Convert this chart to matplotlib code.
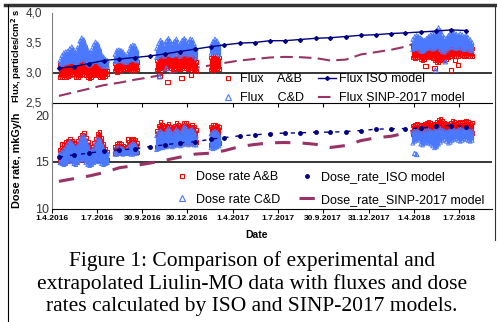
import matplotlib
matplotlib.use('Agg')
import matplotlib.pyplot as plt
import pandas as pd
from matplotlib.lines import Line2D

plt.rcParams['font.family'] = ['Liberation Sans', 'DejaVu Sans']

# ---- model curves (monthly) ----
model_start = '2016-04-01'
flux_iso = [3.07, 3.10, 3.15, 3.20, 3.225, 3.25, 3.275, 3.31, 3.35, 3.39, 3.43, 3.46, 3.49, 3.50,
            3.53, 3.53, 3.55, 3.57, 3.58, 3.60, 3.62, 3.63, 3.65, 3.66, 3.675, 3.69, 3.71, 3.70]
flux_sinp = [2.61, 2.67, 2.73, 2.79, 2.83, 2.88, 2.92, 2.97, 3.03, 3.075, 3.12, 3.16, 3.20, 3.225,
             3.25, 3.26, 3.255, 3.24, 3.20, 3.215, 3.30, 3.34, 3.38, 3.43, 3.525, 3.625]
dose_iso = [15.50, 15.75, 15.93, 16.18, 16.29, 16.39, 16.64, 16.82, 17.04, 17.14, 17.43, 17.60, 17.79, 17.89,
            18.03, 18.08, 18.11, 18.18, 18.18, 18.25, 18.35, 18.50, 18.54, 18.57, 18.61, 18.86, 18.89, 18.78]
dose_sinp = [12.91, 13.20, 13.49, 13.85, 14.37, 14.60, 14.86, 15.17, 15.50, 15.83, 15.93, 16.20, 16.64,
             16.86, 17.04, 17.07, 17.03, 16.88, 16.54, 16.75, 17.27, 17.58, 17.75, 18.08, 18.55]

# ---- Liulin-MO measurement periods (4-day samples: top / bottom of the point cloud) ----
seg_start = ['2016-04-17', '2016-08-06', '2016-10-29', '2017-02-16', '2018-03-30']

flux_cd_top = [
    [3.20, 3.28, 3.33, 3.35, 3.36, 3.40, 3.43, 3.38, 3.34, 3.42, 3.52, 3.58, 3.55, 3.46, 3.38, 3.33, 3.38,
     3.46, 3.51, 3.48, 3.40, 3.30, 3.26, 3.22, 3.20],
    [3.30, 3.37, 3.38, 3.37, 3.35, 3.30, 3.28, 3.36, 3.44, 3.46, 3.45, 3.38],
    [3.40, 3.48, 3.54, 3.50, 3.46, 3.53, 3.57, 3.52, 3.47, 3.52, 3.56, 3.50, 3.47, 3.54, 3.57, 3.53, 3.50,
     3.56, 3.55, 3.48, 3.40],
    [3.45, 3.52, 3.56, 3.53, 3.47],
    [3.55, 3.60, 3.62, 3.60, 3.58, 3.55, 3.54, 3.57, 3.60, 3.63, 3.65, 3.66, 3.70, 3.75, 3.70, 3.63, 3.58,
     3.57, 3.62, 3.66, 3.68, 3.66, 3.64, 3.62, 3.65, 3.63, 3.60, 3.62, 3.58, 3.55, 3.50],
]
flux_cd_low = [
    [3.10, 3.12, 3.15, 3.16, 3.17, 3.18, 3.20, 3.18, 3.15, 3.16, 3.20, 3.22, 3.22, 3.18, 3.14, 3.12, 3.15,
     3.18, 3.20, 3.18, 3.15, 3.12, 3.10, 3.10, 3.10],
    [3.18, 3.19, 3.20, 3.20, 3.19, 3.17, 3.17, 3.20, 3.22, 3.22, 3.21, 3.19],
    [3.25, 3.27, 3.30, 3.29, 3.27, 3.30, 3.32, 3.30, 3.28, 3.30, 3.32, 3.29, 3.27, 3.30, 3.33, 3.31, 3.29,
     3.31, 3.30, 3.27, 3.24],
    [3.32, 3.33, 3.35, 3.33, 3.30],
    [3.38, 3.40, 3.41, 3.39, 3.36, 3.35, 3.37, 3.40, 3.42, 3.41, 3.39, 3.40, 3.43, 3.42, 3.38, 3.35, 3.34,
     3.37, 3.40, 3.42, 3.43, 3.41, 3.40, 3.41, 3.42, 3.40, 3.38, 3.40, 3.39, 3.37, 3.36],
]
flux_ab_top = [
    [3.12, 3.15, 3.12, 3.10, 3.15, 3.17, 3.18, 3.14, 3.12, 3.20, 3.24, 3.26, 3.22, 3.16, 3.12, 3.14, 3.18,
     3.22, 3.24, 3.20, 3.15, 3.10, 3.08, 3.05, 3.02],
    [3.15, 3.20, 3.22, 3.20, 3.18, 3.12, 3.14, 3.22, 3.25, 3.24, 3.22, 3.18],
    [3.20, 3.24, 3.27, 3.25, 3.22, 3.25, 3.28, 3.26, 3.22, 3.25, 3.28, 3.24, 3.22, 3.26, 3.29, 3.27, 3.24,
     3.27, 3.26, 3.22, 3.18],
    [3.25, 3.28, 3.30, 3.27, 3.25],
    [3.42, 3.44, 3.45, 3.43, 3.40, 3.38, 3.40, 3.43, 3.45, 3.44, 3.42, 3.43, 3.46, 3.45, 3.42, 3.38, 3.37,
     3.40, 3.43, 3.45, 3.46, 3.44, 3.43, 3.44, 3.45, 3.44, 3.42, 3.44, 3.43, 3.41, 3.40],
]
flux_ab_low = [
    [2.92, 2.93, 2.95, 2.92, 2.94, 2.96, 2.98, 2.97, 2.93, 2.92, 2.95, 2.98, 3.00, 2.96, 2.92, 2.90, 2.92,
     2.95, 2.97, 2.96, 2.93, 2.92, 2.92, 2.94, 2.97],
    [3.02, 3.01, 3.03, 3.02, 3.05, 3.06, 3.08, 3.05, 3.03, 3.02, 3.03, 3.05],
    [3.05, 3.06, 3.08, 3.07, 3.05, 3.08, 3.10, 3.08, 3.06, 3.08, 3.10, 3.07, 3.05, 3.08, 3.10, 3.08, 3.06,
     3.08, 3.07, 3.05, 3.03],
    [3.05, 3.02, 3.05, 3.08, 3.06],
    [3.25, 3.24, 3.26, 3.25, 3.22, 3.20, 3.22, 3.25, 3.27, 3.26, 3.24, 3.20, 3.18, 3.17, 3.20, 3.22, 3.20,
     3.22, 3.25, 3.28, 3.30, 3.28, 3.27, 3.28, 3.30, 3.29, 3.27, 3.29, 3.28, 3.27, 3.27],
]

dose_ab_top = [
    [16.3, 16.5, 16.8, 17.1, 17.3, 17.5, 17.3, 17.0, 16.9, 17.2, 17.6, 17.9, 18.1, 17.6, 17.1, 16.6, 16.6,
     17.0, 17.5, 18.0, 18.2, 17.6, 16.9, 16.4, 16.1],
    [16.6, 16.9, 17.0, 16.9, 16.7, 16.5, 16.6, 17.1, 17.4, 17.5, 17.4, 17.0],
    [18.3, 18.9, 19.3, 19.0, 18.7, 18.9, 19.1, 18.8, 18.6, 18.9, 19.2, 19.0, 18.7, 18.9, 19.2, 19.2, 18.9,
     18.8, 19.0, 18.8, 18.4],
    [18.8, 19.0, 19.0, 18.9, 18.7],
    [18.9, 19.0, 19.1, 19.0, 18.9, 19.0, 19.1, 19.2, 19.3, 19.2, 19.0, 19.1, 19.3, 19.5, 19.6, 19.4, 19.2,
     19.1, 19.0, 19.2, 19.4, 19.3, 19.1, 19.2, 19.3, 19.2, 19.3, 19.4, 19.3, 19.1, 19.2],
]
dose_ab_low = [
    [15.1, 15.0, 15.0, 15.1, 15.3, 15.5, 15.3, 15.1, 15.0, 15.2, 15.5, 15.6, 15.5, 15.2, 15.0, 14.9, 15.0,
     15.2, 15.3, 15.5, 15.3, 15.1, 15.0, 15.1, 15.2],
    [15.9, 16.0, 16.0, 16.0, 15.9, 15.9, 16.0, 16.1, 16.1, 16.0, 16.0, 16.0],
    [16.6, 16.7, 16.8, 16.8, 16.9, 16.9, 17.0, 17.0, 16.9, 17.0, 17.1, 17.1, 17.0, 17.1, 17.2, 17.2, 17.1,
     17.2, 17.2, 17.1, 17.1],
    [16.8, 16.7, 16.8, 16.9, 17.0],
    [18.0, 18.1, 18.1, 18.0, 17.9, 18.0, 18.1, 18.2, 18.2, 18.1, 18.0, 18.1, 18.2, 18.3, 18.3, 18.2, 18.1,
     18.0, 18.1, 18.2, 18.3, 18.2, 18.1, 18.2, 18.3, 18.2, 18.2, 18.3, 18.2, 18.1, 18.1],
]
dose_cd_top = [
    [15.9, 16.1, 16.3, 16.6, 16.9, 17.2, 17.0, 16.7, 16.5, 16.8, 17.3, 17.7, 17.8, 17.3, 16.8, 16.2, 16.1,
     16.5, 17.0, 17.5, 17.4, 16.9, 16.4, 16.1, 15.9],
    [16.2, 16.5, 16.6, 16.5, 16.4, 16.2, 16.3, 16.6, 16.9, 17.0, 16.9, 16.5],
    [17.8, 18.2, 18.3, 18.1, 18.0, 18.3, 18.6, 18.3, 18.0, 18.2, 18.5, 18.3, 18.1, 18.4, 18.8, 18.6, 18.3,
     18.4, 18.5, 18.2, 17.8],
    [18.0, 18.2, 18.3, 18.2, 17.9],
    [18.2, 18.3, 18.3, 18.2, 18.1, 18.2, 18.3, 18.3, 18.4, 18.3, 18.2, 18.3, 18.4, 18.5, 18.5, 18.4, 18.3,
     18.2, 18.3, 18.4, 18.5, 18.4, 18.3, 18.4, 18.5, 18.4, 18.4, 18.5, 18.4, 18.3, 18.3],
]
dose_cd_low = [
    [14.9, 14.8, 14.7, 14.8, 15.0, 15.2, 15.0, 14.8, 14.7, 14.9, 15.2, 15.3, 15.2, 14.9, 14.7, 14.6, 14.7,
     14.9, 15.0, 15.2, 15.0, 14.8, 14.7, 14.8, 14.9],
    [15.8, 15.8, 15.9, 15.9, 15.8, 15.9, 15.9, 15.9, 15.8, 15.8, 15.9, 15.9],
    [16.3, 16.4, 16.5, 16.5, 16.6, 16.6, 16.7, 16.7, 16.6, 16.7, 16.8, 16.8, 16.7, 16.8, 16.9, 16.9, 16.8,
     16.9, 16.9, 16.8, 16.8],
    [16.5, 16.4, 16.5, 16.6, 16.7],
    [17.0, 17.2, 17.4, 17.3, 16.9, 16.8, 17.0, 17.1, 17.0, 16.9, 16.7, 16.5, 16.6, 16.9, 17.1, 17.3, 17.4,
     17.2, 17.0, 17.1, 17.3, 17.4, 17.5, 17.3, 17.2, 17.3, 17.5, 17.4, 17.3, 17.2, 17.3],
]

# scattered single points below the clouds
flux_ab_out_dates = ['2016-11-04', '2016-11-20', '2016-12-18', '2017-01-07', '2018-04-25',
                     '2018-05-13', '2018-06-15', '2018-06-29', '2018-06-23']
flux_ab_out = [2.95, 2.84, 2.91, 2.96, 3.11, 3.07, 3.04, 3.125, 3.21]
flux_cd_out_dates = ['2016-11-04', '2016-11-18', '2018-06-04', '2018-05-15']
flux_cd_out = [2.93, 3.07, 3.18, 3.04]
dose_ab_out_dates = ['2016-04-21', '2016-08-10', '2016-09-01']
dose_ab_out = [16.9, 16.7, 17.4]
dose_cd_out_dates = ['2016-08-30', '2018-04-03', '2018-04-07']
dose_cd_out = [16.0, 15.9, 15.8]

tick_dates = ['2016-04-01', '2016-07-01', '2016-09-30', '2016-12-30', '2017-04-01', '2017-07-01',
              '2017-09-30', '2017-12-31', '2018-04-01', '2018-07-01']
tick_labels = ['1.4.2016', '1.7.2016', '30.9.2016', '30.12.2016', '1.4.2017', '1.7.2017',
               '30.9.2017', '31.12.2017', '1.4.2018', '1.7.2018']

RED = '#ff0000'
BLUE = '#4a78ff'
NAVY = '#000080'
PLUM = '#993366'

W, H = 497, 322
fig = plt.figure(figsize=(W / 100, H / 100), dpi=100)
ax1 = fig.add_axes([52 / W, 1 - 102.5 / H, 440 / W, 90 / H])
ax2 = fig.add_axes([52 / W, 1 - 208.5 / H, 440 / W, 106 / H])

model_dates = pd.date_range(model_start, periods=28, freq='MS') + pd.Timedelta(days=14)


def draw_cloud(ax, lows, tops, color, marker):
    for s, lo, hi in zip(seg_start, lows, tops):
        d = pd.date_range(s, periods=len(hi), freq='4D')
        ax.vlines(d, lo, hi, color=color, lw=2.3, zorder=3)
        ax.scatter(d, hi, marker=marker, s=7, facecolors='none', edgecolors=color, lw=0.7, zorder=3)
        ax.scatter(d, lo, marker=marker, s=7, facecolors='none', edgecolors=color, lw=0.7, zorder=3)


# flux panel
ax1.plot(model_dates[:len(flux_sinp)], flux_sinp, color=PLUM, lw=1.5, dashes=(6, 3), zorder=2)
draw_cloud(ax1, flux_ab_low, flux_ab_top, RED, 's')
draw_cloud(ax1, flux_cd_low, flux_cd_top, BLUE, '^')
ax1.scatter(pd.to_datetime(flux_ab_out_dates), flux_ab_out, marker='s', s=10,
            facecolors='none', edgecolors=RED, lw=0.8, zorder=3)
ax1.scatter(pd.to_datetime(flux_cd_out_dates), flux_cd_out, marker='^', s=10,
            facecolors='none', edgecolors=BLUE, lw=0.8, zorder=3)
ax1.plot(model_dates, flux_iso, color=NAVY, lw=1, marker='D', ms=2, zorder=4)

h_ab = Line2D([], [], ls='none', marker='s', ms=3.5, mfc='none', mec=RED, mew=0.8)
h_cd = Line2D([], [], ls='none', marker='^', ms=4, mfc='none', mec=BLUE, mew=0.8)
h_iso = Line2D([], [], color=NAVY, lw=1, marker='D', ms=2)
h_sinp = Line2D([], [], color=PLUM, lw=1.5, dashes=(6, 3))
ax1.legend([h_ab, h_cd, h_iso, h_sinp],
           ['Flux    A&B', 'Flux    C&D', 'Flux ISO model', 'Flux SINP-2017 model'],
           ncol=2, frameon=False, fontsize=9, loc='upper left',
           bbox_to_anchor=(219 / W, 1 - 73.5 / H), bbox_transform=fig.transFigure,
           borderpad=0, borderaxespad=0, handlelength=1.4, handletextpad=0.3,
           columnspacing=1.1, labelspacing=0.55)

# dose panel
ax2.plot(model_dates[:len(dose_sinp)], dose_sinp, color=PLUM, lw=2.2, dashes=(5, 4), zorder=2)
draw_cloud(ax2, dose_ab_low, dose_ab_top, RED, 's')
draw_cloud(ax2, dose_cd_low, dose_cd_top, BLUE, '^')
ax2.scatter(pd.to_datetime(dose_ab_out_dates), dose_ab_out, marker='s', s=10,
            facecolors='none', edgecolors=RED, lw=0.8, zorder=3)
ax2.scatter(pd.to_datetime(dose_cd_out_dates), dose_cd_out, marker='^', s=10,
            facecolors='none', edgecolors=BLUE, lw=0.8, zorder=3)
ax2.plot(model_dates, dose_iso, color=NAVY, lw=1, dashes=(3, 5), marker='o', ms=2.5, zorder=4)

h_iso2 = Line2D([], [], ls='none', marker='o', ms=2.5, color=NAVY)
h_sinp2 = Line2D([], [], color=PLUM, lw=2.2, dashes=(5, 4))
ax2.legend([h_ab, h_cd, h_iso2, h_sinp2],
           ['Dose rate A&B', 'Dose rate C&D', 'Dose_rate_ISO model', 'Dose_rate_SINP-2017 model'],
           ncol=2, frameon=False, fontsize=9, loc='upper left',
           bbox_to_anchor=(173 / W, 1 - 171 / H), bbox_transform=fig.transFigure,
           borderpad=0, borderaxespad=0, handlelength=1.4, handletextpad=0.4,
           columnspacing=1.5, labelspacing=0.85)

xlim = (pd.Timestamp('2016-04-01'), pd.Timestamp('2018-09-06'))
for ax in (ax1, ax2):
    ax.set_xlim(xlim)
    ax.set_facecolor('none')
    ax.spines['top'].set_visible(False)
    ax.spines['right'].set_visible(False)
    ax.spines['left'].set_color('#808080')
    ax.spines['bottom'].set_color('black')
    ax.set_xticks(pd.to_datetime(tick_dates))
    ax.tick_params(axis='x', direction='out', length=3, width=0.8, color='black')
    ax.tick_params(axis='y', length=0, labelcolor='#333333')

ax1.set_xticklabels([])
ax2.set_xticklabels(tick_labels, fontsize=6, fontweight='bold')
ax2.tick_params(axis='x', pad=2)

ax1.set_ylim(2.5, 4.0)
ax1.set_yticks([2.5, 3.0, 3.5, 4.0])
ax1.set_yticklabels(['2,5', '3,0', '3,5', '4,0'], fontsize=8.5)
ax1.tick_params(axis='y', pad=7)
ax1.axhline(3.0, color='black', lw=1.1, zorder=1)

ax2.set_ylim(10, 21.36)
ax2.set_yticks([10, 15, 20])
ax2.set_yticklabels(['10', '15', '20'], fontsize=9)
ax2.tick_params(axis='y', pad=2)
ax2.axhline(15, color='black', lw=1.1, zorder=1)

fig.text(17 / W, 1 - 56 / H, r'Flux, particles/cm$^{\mathbf{2}}$ s', rotation=90,
         fontsize=6.8, fontweight='bold', ha='center', va='center')
fig.text(17 / W, 1 - 160 / H, 'Dose rate, mkGy/h', rotation=90,
         fontsize=7.8, fontweight='bold', ha='center', va='center')
fig.text(257 / W, 1 - 235 / H, 'Date', fontsize=7.5, fontweight='bold', ha='center', va='center')

caption = ['Figure 1: Comparison of experimental and',
           'extrapolated Liulin-MO data with fluxes and dose',
           'rates calculated by ISO and SINP-2017 models.']
for i, line in enumerate(caption):
    fig.text(252 / W, 1 - (261 + 23 * i) / H, line, fontsize=15.5,
             family='Liberation Serif', ha='center', va='center')

# page frame lines
fig.add_artist(Line2D([5 / W, 1], [1 - 5 / H, 1 - 5 / H], color='#333333', lw=2.5))
fig.add_artist(Line2D([7.5 / W, 7.5 / W], [0, 1 - 5 / H], color='black', lw=0.8))
fig.add_artist(Line2D([495 / W, 495 / W], [1 - 240 / H, 1 - 5 / H], color='#333333', lw=0.8))

fig.savefig('out.png', dpi=100)
